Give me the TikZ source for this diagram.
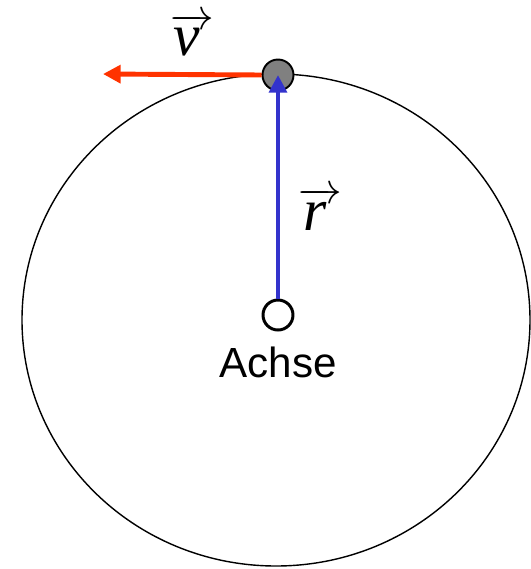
\documentclass[tikz,border=0pt]{standalone}
\usepackage{fontspec}
\setmainfont{Liberation Serif}
\newfontfamily\arialfont{Liberation Sans}
\usetikzlibrary{arrows.meta,positioning}
\definecolor{vred}{HTML}{FF3300}
\definecolor{rblue}{HTML}{3333CC}

\begin{document}
\begin{tikzpicture}[x=0.02cm,y=-0.02cm,
  vec/.style={line width=2.8pt,-{Triangle[length=10pt,width=10pt]}},
  lbl/.style={font=\fontsize{34}{36}\selectfont,inner sep=0pt}]
\useasboundingbox (0,0) rectangle (531,569);
\draw[line width=0.8pt] (276,320) ellipse [x radius=254,y radius=246];
\node[circle,draw,line width=1.1pt,fill=black!50,minimum size=0.62cm,inner sep=0pt] (ball) at (278,75) {};
\node[circle,draw,line width=1.7pt,fill=white,minimum size=0.6cm,inner sep=0pt] (axis) at (278,315) {};
\node[below=0.3cm of axis,font=\arialfont\fontsize{24}{26}\selectfont,inner sep=0pt] (achse) {Achse};
\coordinate (vtip) at (103,74);
\draw[vec,vred] (ball.west) -- (vtip);
\draw[vec,rblue] (axis.north) -- (ball.center);
\node[lbl] (vlabel) at (192,35) {$\overrightarrow{\mbox{\itshape v\,}}$};
\node[lbl] (rlabel) at (320,209) {$\overrightarrow{\mbox{\itshape r\,}}$};
\end{tikzpicture}
\end{document}
